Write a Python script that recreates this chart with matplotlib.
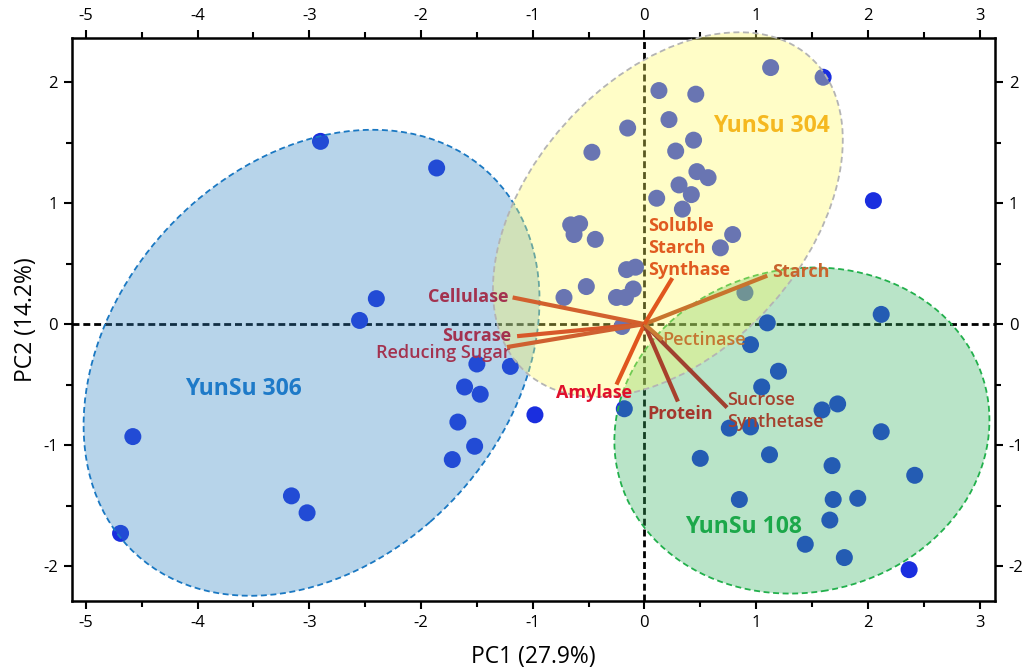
import numpy as np
import matplotlib.pyplot as plt
from matplotlib.patches import Ellipse

plt.rcParams['font.family'] = ['Open Sans', 'DejaVu Sans']
plt.rcParams['axes.unicode_minus'] = False

# ── Sample scores (PC1, PC2) ─────────────────────────────────
pc1 = [-2.90, -1.86, -2.40, -2.55, -4.58, -4.69, -3.16, -3.02, -1.50, -1.61,
       -1.47, -1.67, -1.52, -1.72, -1.20, -0.98,
       1.13, 1.60, 0.13, 0.46, -0.15, 0.22, -0.47, 0.44, 0.28, 0.47,
       0.57, 0.31, 0.42, 0.11, 0.34, -0.66, -0.58, -0.63, -0.44, 0.79,
       0.68, -0.16, -0.08, -0.52, -0.72, -0.10, -0.25, -0.17, -0.20, 0.90,
       0.95, 1.20, 1.05, 1.59, 1.73, 0.76, 0.95, 2.12, 0.50, 1.12,
       1.68, 2.42, 0.85, 1.69, 1.91, 1.66, 1.44, 1.79, 2.37, 2.12,
       1.10, 2.05, -0.18]
pc2 = [1.51, 1.29, 0.21, 0.03, -0.93, -1.73, -1.42, -1.56, -0.33, -0.52,
       -0.58, -0.81, -1.01, -1.12, -0.35, -0.75,
       2.12, 2.04, 1.93, 1.90, 1.62, 1.69, 1.42, 1.52, 1.43, 1.26,
       1.21, 1.15, 1.07, 1.04, 0.95, 0.82, 0.83, 0.74, 0.70, 0.74,
       0.63, 0.45, 0.47, 0.31, 0.22, 0.29, 0.22, 0.22, -0.02, 0.26,
       -0.17, -0.39, -0.52, -0.71, -0.66, -0.86, -0.85, -0.89, -1.11, -1.08,
       -1.17, -1.25, -1.45, -1.45, -1.44, -1.62, -1.82, -1.93, -2.03, 0.08,
       0.01, 1.02, -0.70]

# ── Group confidence ellipses ────────────────────────────────
groups = ['YunSu 306', 'YunSu 108', 'YunSu 304']
ell_cx = [-2.98, 1.41, 0.21]
ell_cy = [-0.32, -0.88, 0.905]
ell_w = [4.48, 3.37, 3.65]
ell_h = [3.38, 2.68, 2.36]
ell_ang = [38.9, 8.0, 42.3]
group_lx = [-3.59, 0.89, 1.14]
group_ly = [-0.54, -1.68, 1.64]

# ── Variable loadings ────────────────────────────────────────
var_names = ['Cellulase', 'Sucrase', 'Reducing Sugar', 'Amylase', 'Protein',
             'Sucrose\nSynthetase', 'Pectinase', 'Starch', 'Soluble\nStarch\nSynthase']
load_x = [-1.18, -1.14, -1.23, -0.25, 0.30, 0.74, 0.16, 1.10, 0.25]
load_y = [0.22, -0.10, -0.19, -0.50, -0.64, -0.69, -0.13, 0.40, 0.38]

# styling for the arrows / labels
line_cols = ['#d2602e', '#d8582a', '#cf6030', '#e0561e', '#a8402c',
             '#a04030', '#c87c34', '#c8742e', '#e0561e']
text_cols = ['#a3324f', '#a3324f', '#a3324f', '#e0102c', '#a5372d',
             '#a5402d', '#c47632', '#c8642e', '#e05a20']
text_w = ['bold', 'bold', 'semibold', 'bold', 'bold', 'semibold', 'semibold', 'bold', 'bold']
lab_x = [-1.22, -1.19, -1.20, -0.45, 0.32, 0.74, 0.16, 1.14, 0.03]
lab_y = [0.22, -0.10, -0.24, -0.57, -0.74, -0.72, -0.13, 0.43, 0.63]
lab_ha = ['right', 'right', 'right', 'center', 'center', 'left', 'left', 'left', 'left']

fig = plt.figure(figsize=(10.31, 6.71), dpi=100)
ax = fig.add_axes([0.0698, 0.1043, 0.8952, 0.839])

ax.axhline(0, color='black', ls=(0, (2.5, 1.4)), lw=2, zorder=1)
ax.axvline(0, color='black', ls=(0, (2.5, 1.4)), lw=2, zorder=1)

ax.scatter(pc1, pc2, s=150, color='#1a2edf', edgecolors='none', zorder=2)

face = [(49/255, 132/255, 195/255, 0.35),
        (55/255, 178/255, 98/255, 0.35),
        (1.0, 252/255, 95/255, 0.35)]
edge = ['#1a78c2', '#22b04c', '#b4b4b4']
gtxt = ['#1e7ac8', '#1ca84a', '#f5b820']
for i in range(3):
    e = Ellipse((ell_cx[i], ell_cy[i]), ell_w[i], ell_h[i], angle=ell_ang[i],
                facecolor=face[i], edgecolor=edge[i], lw=1.3,
                ls=(0, (3.3, 2)), zorder=3, clip_on=False)
    ax.add_patch(e)
    ax.text(group_lx[i], group_ly[i], groups[i], color=gtxt[i], fontsize=16.5,
            fontweight='bold', ha='center', va='center', zorder=6)

for i in range(len(var_names)):
    ax.plot([0, load_x[i]], [0, load_y[i]], color=line_cols[i], lw=3,
            solid_capstyle='butt', zorder=5)
    ax.text(lab_x[i], lab_y[i], var_names[i], color=text_cols[i], fontsize=13,
            fontweight=text_w[i], ha=lab_ha[i], va='center', zorder=4,
            linespacing=1.3)

ax.set_xlim(-5.125, 3.138)
ax.set_ylim(-2.289, 2.364)
ax.set_xticks(np.arange(-5, 4, 1))
ax.set_yticks(np.arange(-2, 3, 1))
ax.set_xticks(np.arange(-5, 3.5, 0.5), minor=True)
ax.set_yticks(np.arange(-2, 2.5, 0.5), minor=True)
ax.tick_params(which='both', direction='out', top=True, right=True,
               labeltop=True, labelright=True, width=1.5, labelsize=12)
ax.tick_params(which='major', length=6, pad=4)
ax.tick_params(which='minor', length=4)
for s in ax.spines.values():
    s.set_linewidth(1.8)

ax.set_xlabel('PC1 (27.9%)', fontsize=16.5, labelpad=10)
ax.set_ylabel('PC2 (14.2%)', fontsize=16.5, labelpad=4)

fig.savefig('out.png', dpi=100)
